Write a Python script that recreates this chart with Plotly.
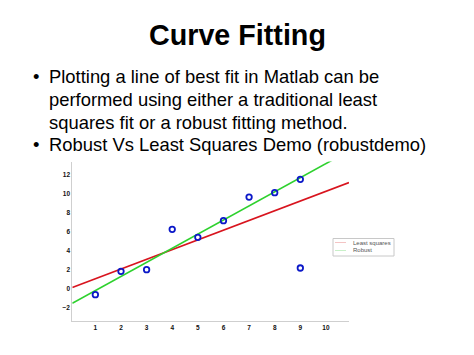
import numpy as np
import plotly.graph_objects as go

# ---- data ----
x_pts = [1, 2, 3, 4, 5, 6, 7, 8, 9, 9]
y_pts = [-0.67, 1.79, 1.96, 6.21, 5.37, 7.12, 9.61, 10.07, 11.47, 2.14]
robust_coef = [1.485, -1.72]          # slope, intercept
x_ticks = [1, 2, 3, 4, 5, 6, 7, 8, 9, 10]
y_ticks = [-2, 0, 2, 4, 6, 8, 10, 12]
series_names = ["Least squares", "Robust"]
title_text = "Curve Fitting"
bullet_lines = [
    ("•", "Plotting a line of best fit in Matlab can be"),
    ("", "performed using either a traditional least"),
    ("", "squares fit or a robust fitting method."),
    ("•", "Robust Vs Least Squares Demo (robustdemo)"),
]

W, H = 474, 355
XR = [0.1, 10.9]
YR = [-3.41, 13.35]

ls_coef = np.polyfit(x_pts, y_pts, 1)
xl = np.array(XR)

def px(v):
    return v / W

def py(v):
    return 1 - v / H

fig = go.Figure()
fig.add_trace(go.Scatter(x=xl, y=np.polyval(ls_coef, xl), mode="lines",
                         line=dict(color="#d8141e", width=1.6), name=series_names[0],
                         showlegend=False, cliponaxis=True))
fig.add_trace(go.Scatter(x=xl, y=np.polyval(robust_coef, xl), mode="lines",
                         line=dict(color="#2ed12e", width=1.6), name=series_names[1],
                         showlegend=False, cliponaxis=True))
fig.add_trace(go.Scatter(x=x_pts, y=y_pts, mode="markers",
                         marker=dict(symbol="circle-open", size=5.5, color="#0b18c8",
                                     line=dict(width=1.8, color="#0b18c8")),
                         showlegend=False, cliponaxis=False))

annotations = [dict(text="<b>" + title_text + "</b>", x=px(237), y=py(35), xref="paper", yref="paper",
                    xanchor="center", yanchor="middle", showarrow=False,
                    font=dict(family="Liberation Sans", size=28.7, color="#000"))]
baselines = [83.3, 106, 128.3, 150.7]
for (b, t), base in zip(bullet_lines, baselines):
    annotations.append(dict(text=t, x=px(46.5), y=py(base - 6.3), xref="paper", yref="paper",
                            xanchor="left", yanchor="middle", showarrow=False,
                            font=dict(family="Liberation Sans", size=18.4, color="#000")))
    if b:
        annotations.append(dict(text=b, x=px(31), y=py(base - 6.3), xref="paper", yref="paper",
                                xanchor="left", yanchor="middle", showarrow=False,
                                font=dict(family="Liberation Sans", size=18.4, color="#000")))

# manual legend
leg_y = [242.5, 250.5]
leg_cols = ["#f4c4c4", "#c8f0c8"]
shapes = [dict(type="rect", xref="paper", yref="paper", x0=px(333), x1=px(394), y0=py(256), y1=py(238.5),
               line=dict(color="#c8c8c8", width=1), fillcolor="white")]
for name, yy, c in zip(series_names, leg_y, leg_cols):
    shapes.append(dict(type="line", xref="paper", yref="paper", x0=px(335), x1=px(346), y0=py(yy), y1=py(yy),
                       line=dict(color=c, width=1)))
    annotations.append(dict(text=name, x=px(350.5), y=py(yy), xref="paper", yref="paper",
                            xanchor="left", yanchor="middle", showarrow=False,
                            font=dict(family="Liberation Sans", size=6, color="#555")))

axis_common = dict(showgrid=False, zeroline=False, showline=True, linecolor="#cfcfcf", linewidth=1,
                   ticks="", tickfont=dict(family="Liberation Sans", size=6.5, color="#111", weight="bold"))
fig.update_layout(
    width=W, height=H, margin=dict(l=0, r=0, t=0, b=0),
    paper_bgcolor="white", plot_bgcolor="white",
    xaxis=dict(range=XR, domain=[px(72.3), px(349)], tickvals=x_ticks, **axis_common),
    yaxis=dict(range=YR, domain=[py(320.7), py(161.5)], tickvals=y_ticks, **axis_common),
    annotations=annotations, shapes=shapes,
)
fig.write_html("out.html")
